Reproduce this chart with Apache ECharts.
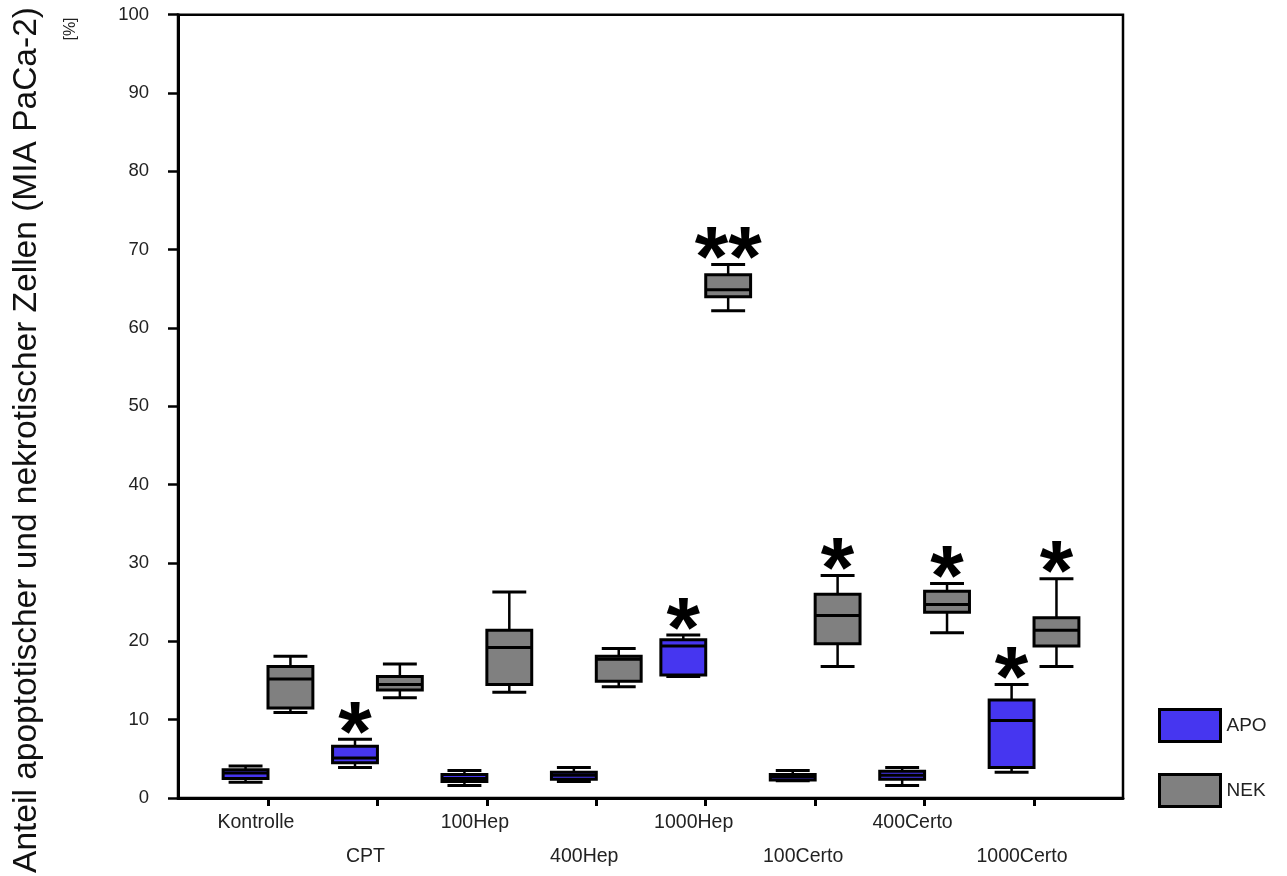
<!DOCTYPE html>
<html>
<head>
<meta charset="utf-8">
<title>Anteil apoptotischer und nekrotischer Zellen (MIA PaCa-2)</title>
<script src="https://cdn.jsdelivr.net/npm/echarts@6/dist/echarts.min.js"></script>
<style>
  html, body { margin: 0; padding: 0; background: #ffffff; }
  #chart { width: 1287px; height: 876px; }
</style>
</head>
<body>
<div id="chart"></div>
<script>
// Treatment groups along the x axis
const categories = ['Kontrolle', 'CPT', '100Hep', '400Hep', '1000Hep', '100Certo', '400Certo', '1000Certo'];

// Box statistics per group: [lower whisker, Q1, median, Q3, upper whisker] in %
const apoStats = [
  [2.0, 2.5, 3.2, 3.6, 4.1],
  [3.9, 4.5, 5.1, 6.6, 7.5],
  [1.6, 2.1, 2.5, 3.0, 3.5],
  [2.1, 2.4, 2.9, 3.3, 3.9],
  [15.5, 15.7, 19.4, 20.2, 20.8],
  [2.2, 2.3, 2.7, 3.0, 3.5],
  [1.6, 2.4, 2.9, 3.4, 3.9],
  [3.3, 3.9, 9.9, 12.5, 14.5]
];
const nekStats = [
  [10.9, 11.5, 15.2, 16.8, 18.1],
  [12.8, 13.8, 14.5, 15.5, 17.1],
  [13.5, 14.5, 19.2, 21.4, 26.3],
  [14.2, 14.9, 17.7, 18.1, 19.1],
  [62.2, 64.0, 64.9, 66.8, 68.1],
  [16.8, 19.7, 23.3, 26.0, 28.4],
  [21.1, 23.7, 24.7, 26.4, 27.4],
  [16.8, 19.4, 21.4, 23.0, 28.0]
];

// Significance markers above each box
const apoMarks = ['', '*', '', '', '*', '', '', '*'];
const nekMarks = ['', '', '', '', '**', '*', '*', '*'];

// Value axis range
const yMin = 0, yMax = 100, yStep = 10;

const FONT = "'Liberation Sans', Arial, sans-serif";
const APO_COLOR = '#4636f0';
const NEK_COLOR = '#808080';
const BOX_W = 0.41;        // box width in category units
const CAP_W = 0.31;        // whisker cap width in category units
const PAIR_OFFSET = 0.205; // APO left of the tick, NEK right of it
const LABEL_SHIFT = 0.11;  // category names sit slightly left of their tick

function boxRenderer(offset, marks) {
  return function (params, api) {
    const idx = api.value(0);
    const low = api.value(1), q1 = api.value(2), med = api.value(3), q3 = api.value(4), high = api.value(5);
    const cx = api.coord([idx + offset, 0])[0];
    const halfBox = api.size([BOX_W, 0])[0] / 2;
    const halfCap = api.size([CAP_W, 0])[0] / 2;
    const py = v => api.coord([idx + offset, v])[1];
    const fill = api.visual('color');
    const stroke = { stroke: '#000', lineWidth: 3 };
    const children = [
      { type: 'line', shape: { x1: cx, y1: py(high), x2: cx, y2: py(q3) }, style: { stroke: '#000', lineWidth: 2.5 } },
      { type: 'line', shape: { x1: cx, y1: py(q1), x2: cx, y2: py(low) }, style: { stroke: '#000', lineWidth: 2.5 } },
      { type: 'line', shape: { x1: cx - halfCap, y1: py(high), x2: cx + halfCap, y2: py(high) }, style: stroke },
      { type: 'line', shape: { x1: cx - halfCap, y1: py(low), x2: cx + halfCap, y2: py(low) }, style: stroke },
      {
        type: 'rect',
        shape: { x: cx - halfBox, y: py(q3), width: halfBox * 2, height: py(q1) - py(q3) },
        style: { fill: fill, stroke: '#000', lineWidth: 3 }
      },
      { type: 'line', shape: { x1: cx - halfBox, y1: py(med), x2: cx + halfBox, y2: py(med) }, style: stroke }
    ];
    const mark = marks[params.dataIndex];
    if (mark) {
      children.push({
        type: 'text',
        x: cx,
        y: py(high) - 2,
        style: {
          text: mark,
          fill: '#000',
          font: 'bold 86px ' + FONT,
          align: 'center',
          verticalAlign: 'middle'
        }
      });
    }
    return { type: 'group', children: children };
  };
}

const chart = echarts.init(document.getElementById('chart'), null, { renderer: 'canvas' });

const tickPositions = categories.map((_, i) => i);
const labelPositions = categories.map((_, i) => i - LABEL_SHIFT);

chart.setOption({
  animation: false,
  backgroundColor: '#ffffff',
  textStyle: { fontFamily: FONT },
  grid: {
    left: 178, right: 164, top: 14.7, bottom: 78,
    show: true, borderColor: '#000', borderWidth: 2.5, backgroundColor: 'transparent'
  },
  legend: {
    orient: 'vertical',
    left: 1153, top: 703,
    itemWidth: 61, itemHeight: 32, itemGap: 30,
    icon: 'rect',
    itemStyle: { borderColor: '#000', borderWidth: 3 },
    textStyle: { fontSize: 19, color: '#222', fontFamily: FONT, padding: [14, 0, 0, 1] },
    data: ['APO', 'NEK']
  },
  xAxis: {
    type: 'value',
    min: -0.8224,
    max: 7.813,
    splitLine: { show: false },
    axisLine: { show: true, onZero: false, lineStyle: { color: '#000', width: 3 } },
    axisTick: { show: true, inside: false, length: 8, customValues: tickPositions, lineStyle: { color: '#000', width: 3 } },
    axisLabel: {
      customValues: labelPositions,
      showMinLabel: true,
      showMaxLabel: true,
      hideOverlap: false,
      formatter: v => {
        const i = Math.round(v + LABEL_SHIFT);
        return (i % 2 === 1 ? '\n' : '') + categories[i];
      },
      margin: 8,
      lineHeight: 34,
      fontSize: 19.5,
      color: '#222',
      fontFamily: FONT
    }
  },
  yAxis: {
    type: 'value',
    min: yMin, max: yMax, interval: yStep,
    splitLine: { show: false },
    axisLine: { show: true, onZero: false, lineStyle: { color: '#000', width: 3 } },
    axisTick: { show: true, inside: false, length: 10, lineStyle: { color: '#000', width: 2.5 } },
    axisLabel: { margin: 29, fontSize: 18.5, color: '#222', fontFamily: FONT }
  },
  graphic: [
    {
      type: 'text',
      x: 27, y: 440,
      rotation: Math.PI / 2,
      style: {
        text: 'Anteil apoptotischer und nekrotischer Zellen (MIA PaCa-2)',
        font: '33.5px ' + FONT,
        fill: '#111',
        align: 'center',
        verticalAlign: 'middle'
      }
    },
    {
      type: 'text',
      x: 71, y: 29,
      rotation: Math.PI / 2,
      style: {
        text: '[%]',
        font: '16px ' + FONT,
        fill: '#222',
        align: 'center',
        verticalAlign: 'middle'
      }
    }
  ],
  series: [
    {
      name: 'APO',
      type: 'custom',
      itemStyle: { color: APO_COLOR },
      encode: { x: 0, y: [1, 2, 3, 4, 5] },
      renderItem: boxRenderer(-PAIR_OFFSET, apoMarks),
      data: apoStats.map((s, i) => [i].concat(s)),
      z: 3
    },
    {
      name: 'NEK',
      type: 'custom',
      itemStyle: { color: NEK_COLOR },
      encode: { x: 0, y: [1, 2, 3, 4, 5] },
      renderItem: boxRenderer(PAIR_OFFSET, nekMarks),
      data: nekStats.map((s, i) => [i].concat(s)),
      z: 3
    }
  ]
});
</script>
</body>
</html>
